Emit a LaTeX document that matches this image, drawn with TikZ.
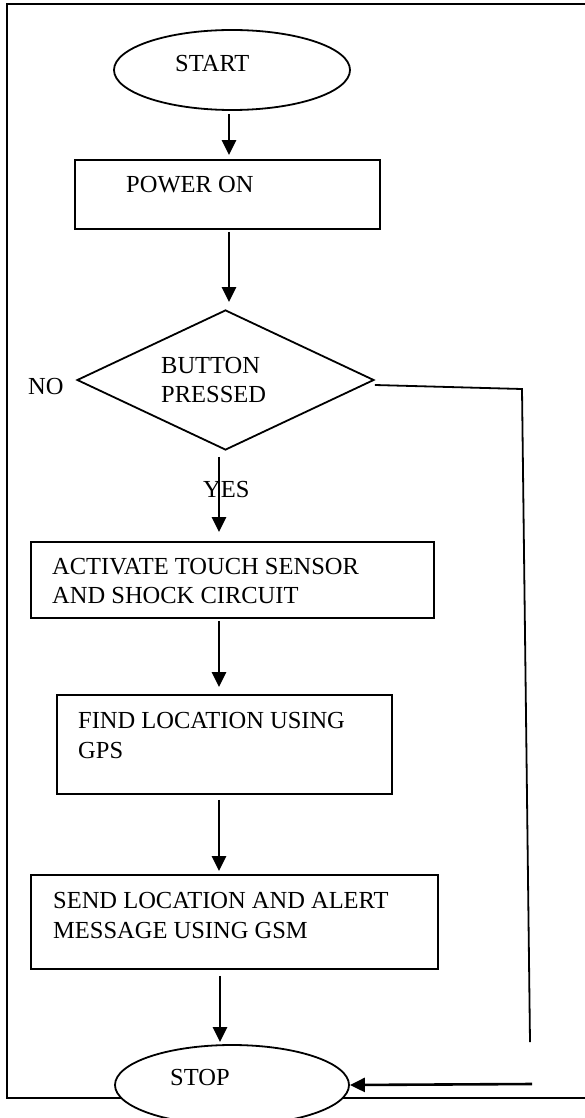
\documentclass[tikz,border=0pt]{standalone}
\usepackage{fontspec}
\setmainfont{Liberation Serif}
\usetikzlibrary{shapes.geometric,arrows.meta}
\tikzset{
  boxnode/.style={draw, line width=1.8pt, inner sep=0pt, minimum width=#1},
  termnode/.style={ellipse, draw, fill=white, line width=1.8pt, inner sep=0pt, minimum width=236pt, minimum height=80pt},
  decnode/.style={diamond, draw, line width=1.8pt, inner sep=0pt, minimum width=297pt, minimum height=140pt},
  arr/.style={line width=2.6pt, -{Triangle[length=15pt,width=14pt]}},
  plain/.style={line width=1.8pt},
  txt/.style={anchor=base west, inner sep=0pt, font=\fontsize{24.5}{29}\selectfont}
}
\begin{document}
\begin{tikzpicture}[x=1pt,y=-1pt]
\useasboundingbox (0,0) rectangle (585,1118);
% outer frame (open on the right)
\draw[plain] (585,4) -- (7,4) -- (7,1098) -- (585,1098);

% shapes
\node[termnode] (start) at (232,70) {};
\node[boxnode=305pt, minimum height=69pt] (power) at (227.5,194.5) {};
\node[decnode] (dec) at (225.5,380) {};
\node[boxnode=403pt, minimum height=76pt] (act) at (232.5,580) {};
\node[boxnode=335pt, minimum height=99pt] (find) at (224.5,744.5) {};
\node[boxnode=407pt, minimum height=94pt] (send) at (234.5,922) {};
\node[termnode, minimum width=234pt] (stop) at (232,1085) {};

% texts
\node[txt] (tstart) at (175,72) {START};
\node[txt] (tpower) at (126,193) {POWER ON};
\node[txt] (tdec1) at (161,373) {BUTTON};
\node[txt] (tdec2) at (161,402) {PRESSED};
\node[txt] (tno) at (28,394) {NO};
\node[txt] (tyes) at (203,497) {YES};
\node[txt] (tact1) at (52,574) {ACTIVATE TOUCH SENSOR};
\node[txt] (tact2) at (52,603) {AND SHOCK CIRCUIT};
\node[txt] (tfind1) at (78,728) {FIND LOCATION USING};
\node[txt] (tfind2) at (78,758) {GPS};
\node[txt] (tsend1) at (53,908) {SEND LOCATION AND ALERT};
\node[txt] (tsend2) at (53,938) {MESSAGE USING GSM};
\node[txt] (tstop) at (170,1085) {STOP};

% connectors
\draw[arr] ([shift={(-3,3)}]start.south) -- ([shift={(1.5,-4)}]power.north);
\draw[arr] ([shift={(1.5,2)}]power.south) -- ([shift={(3.5,-7)}]dec.north);
\draw[arr] ([shift={(-6.5,6)}]dec.south) -- ([shift={(-13.5,-9)}]act.north);
\draw[arr] ([shift={(-13.5,2)}]act.south) -- ([shift={(-5.5,-7)}]find.north);
\draw[arr] ([shift={(-5.5,5)}]find.south) -- ([shift={(-15.5,-3)}]send.north);
\draw[arr] ([shift={(-14.5,6)}]send.south) -- ([shift={(-12,-2)}]stop.north);

% NO branch
\coordinate (k1) at (522,389);
\coordinate (k2) at (530,1042);
\coordinate (k3) at (532,1084);
\draw[plain] ([yshift=-5pt]dec.east) -- (k1) -- (k2);
\draw[arr] (k3) -- (stop.east);
\end{tikzpicture}
\end{document}
